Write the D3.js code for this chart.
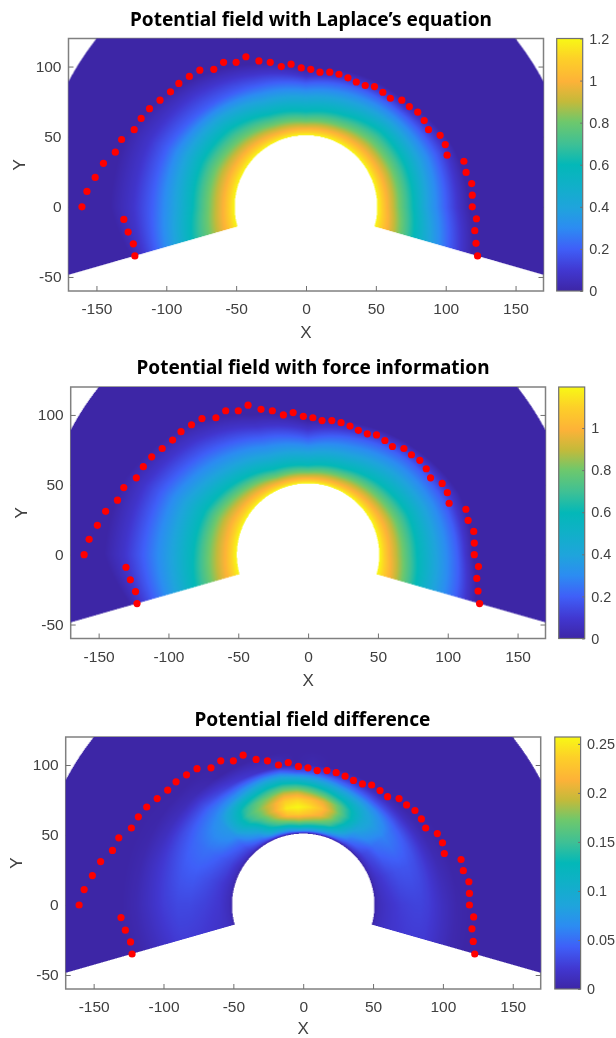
<!DOCTYPE html>
<html>
<head>
<meta charset="utf-8">
<script src="https://cdn.jsdelivr.net/npm/d3@7"></script>
<style>
  html, body { margin: 0; background: #fff; }
  svg { display: block; filter: blur(0.4px); }
  text { font-family: "Liberation Sans", Arial, sans-serif; fill: #404040; }
  .title { font-family: "Noto Sans", sans-serif; font-weight: 700; font-size: 20px; fill: #000; }
</style>
</head>
<body>
<div id="chart"></div>
<script>
// boundary points, same in all three panels
const pointX = [-160.4, -156.8, -150.9, -145, -136.5, -132, -123, -118, -112, -104.5, -97, -91, -83.5, -76, -66, -59, -50, -43, -33.7, -25.6, -17.7, -10.7, -3.4, 3.4, 10, 17, 23.6, 30, 36, 42.4, 49, 55, 60.4, 68.6, 74, 80, 84.6, 87.7, 96, 99.7, 101, 113, 114.6, 118.6, 119, 119, 122, 120.8, 121.7, 122.8, -130.4, -127.3, -123.6, -122.5];
const pointY = [0, 11, 21, 31, 39, 48, 55, 63, 70, 76, 82, 88, 93, 97.4, 98, 103, 103, 107, 104, 103, 100, 101.7, 99, 98, 96, 96, 94.5, 92, 89, 86.5, 85.7, 81.7, 77.4, 76, 71.5, 67.5, 61.5, 55, 51, 44.4, 36.8, 32.5, 24.5, 16.6, 8.3, 0, -8.5, -17, -26, -35, -9, -18, -26.4, -35];

const xTicks = [-150, -100, -50, 0, 50, 100, 150];
const yTicks = [-50, 0, 50, 100];

// colour bar, position along the bar -> colour
const cmapPos = [0, 0.08, 0.167, 0.25, 0.33, 0.42, 0.5, 0.58, 0.67, 0.75, 0.83, 0.92, 1];
const cmapColors = ['#3d26a6', '#4137d0', '#3f5ff8', '#2c8cf2', '#1fa4dc', '#10b0c8', '#03b8b8', '#3dc096', '#6ec86c', '#c4ba3a', '#fdb238', '#fdd028', '#f8f815'];

// Laplace panel: radius where the field reaches each level, by angle (deg)
const fieldAngles = [-15.9, 0, 22, 45, 67, 90, 112, 135, 157, 180, 195.9];
const fieldLevels = [1.2, 1.0, 0.8, 0.6, 0.4, 0.2, 0.08, 0];
const laplaceRadii = [
  [51, 60, 70, 80, 92, 106, 116, 124],
  [51, 58, 67, 77, 86, 100, 109, 117],
  [51, 58, 67, 77, 87, 100, 108, 114],
  [51, 57.5, 66, 76, 85, 95, 100, 104],
  [51, 56.5, 63, 71, 81, 92, 97, 102],
  [51, 55.5, 61, 68, 78, 88, 93, 98],
  [51, 56, 63, 71, 81, 93, 102, 110],
  [51, 58, 67, 78, 89, 100, 114, 124],
  [51, 59, 70, 81, 93, 108, 122, 138],
  [51, 59, 70, 81, 93, 110, 124, 140],
  [51, 60, 72, 85, 97, 112, 122, 130]
];
// force panel, same layout
const forceRadii = [
  [51, 60, 70, 80, 93, 110, 118, 125],
  [51, 58, 68, 78, 91, 107, 113, 118],
  [51, 58, 67, 77, 89, 104, 111, 117],
  [51, 56.5, 64, 72, 84, 98, 104, 108],
  [51, 55, 61, 67, 77, 90, 96, 101],
  [51, 54.5, 59, 64, 73, 83, 90, 96],
  [51, 55, 60, 66, 76, 90, 99, 108],
  [51, 57, 65, 73, 85, 103, 116, 128],
  [51, 59, 70, 80, 95, 114, 128, 142],
  [51, 59, 71, 82, 97, 118, 132, 146],
  [51, 60, 72, 84, 98, 115, 125, 132]
];

// difference panel: value by angle (rows) and radius (columns)
const diffAngles = [-15.9, 0, 20, 40, 55, 65, 72, 79, 86, 93, 100, 107, 114, 122, 135, 150, 165, 180, 195.9];
const diffRadii = [51, 53, 56, 60, 65, 70, 75, 80, 85, 90, 95, 100, 110, 120, 130, 145];
const diffValues = [
  [0, .008, .012, .015, .018, .02, .022, .023, .023, .022, .018, .013, .004, 0, 0, 0],
  [0, .008, .012, .016, .02, .024, .026, .027, .027, .024, .018, .012, .003, 0, 0, 0],
  [0, .01, .017, .023, .03, .035, .037, .037, .033, .025, .015, .007, 0, 0, 0, 0],
  [0, .015, .028, .036, .05, .055, .06, .055, .045, .028, .012, .003, 0, 0, 0, 0],
  [0, .028, .05, .065, .085, .095, .095, .085, .065, .035, .012, 0, 0, 0, 0, 0],
  [0, .045, .08, .115, .14, .15, .14, .115, .08, .045, .015, 0, 0, 0, 0, 0],
  [0, .055, .1, .15, .18, .19, .175, .135, .095, .055, .02, 0, 0, 0, 0, 0],
  [0, .06, .115, .165, .21, .225, .205, .16, .115, .07, .025, 0, 0, 0, 0, 0],
  [0, .065, .12, .175, .225, .245, .225, .18, .135, .085, .035, .005, 0, 0, 0, 0],
  [0, .07, .125, .18, .235, .257, .24, .2, .15, .1, .04, 0, 0, 0, 0, 0],
  [0, .055, .11, .165, .225, .25, .235, .2, .155, .11, .06, .012, 0, 0, 0, 0],
  [0, .05, .1, .15, .19, .21, .205, .18, .145, .105, .06, .015, 0, 0, 0, 0],
  [0, .045, .09, .125, .155, .175, .18, .165, .13, .09, .055, .02, 0, 0, 0, 0],
  [0, .03, .055, .08, .11, .14, .15, .14, .115, .075, .05, .025, 0, 0, 0, 0],
  [0, .018, .03, .042, .055, .07, .075, .075, .07, .06, .05, .035, .008, 0, 0, 0],
  [0, .012, .02, .03, .038, .045, .05, .052, .05, .047, .04, .032, .012, .002, 0, 0],
  [0, .01, .016, .022, .028, .033, .037, .04, .04, .038, .033, .027, .015, .004, 0, 0],
  [0, .01, .014, .02, .023, .026, .028, .03, .03, .03, .027, .024, .014, .005, 0, 0],
  [0, .01, .014, .016, .018, .02, .022, .023, .024, .024, .022, .018, .01, .003, 0, 0]
];

const titles = ['Potential field with Laplace\u2019s equation', 'Potential field with force information', 'Potential field difference'];
const barMax = [1.2, 1.195, 0.257];
const barTicks = [[0, 0.2, 0.4, 0.6, 0.8, 1, 1.2], [0, 0.2, 0.4, 0.6, 0.8, 1], [0, 0.05, 0.1, 0.15, 0.2, 0.25]];

const W = 616, H = 1038;
const INNER_R = 51, OUTER_R = 192, WEDGE = 15.9;

const layout = [
  { left: 68.5, right: 543.5, top: 38.5, bottom: 291, barL: 556.7, barR: 582.7, titleX: 311, titleY: 26, titleW: 362, yLabelX: 25, xLabelDy: 47 },
  { left: 70.7, right: 545.5, top: 387, bottom: 638.5, barL: 558.7, barR: 584.7, titleX: 313, titleY: 374, titleW: 353, yLabelX: 27, xLabelDy: 47 },
  { left: 65.7, right: 540.7, top: 737, bottom: 989, barL: 554.8, barR: 580.6, titleX: 312.5, titleY: 726, titleW: 236, yLabelX: 22, xLabelDy: 45.4 }
];

const svg = d3.select('#chart').append('svg').attr('width', W).attr('height', H);

const position = d3.scaleLinear().domain(cmapPos).range(cmapColors).interpolate(d3.interpolateRgb).clamp(true);

// per angle lookup, one value(r) scale for every quarter degree
function buildLookup(angles, rows, makeScale) {
  const cols = d3.transpose(rows).map(c => d3.scaleLinear().domain(angles).range(c).clamp(true));
  const table = [];
  for (let i = 0; i <= 240 * 4; i++) {
    const a = -30 + i / 4;
    table.push(makeScale(cols.map(c => c(a))));
  }
  return a => table[Math.round((a + 30) * 4)];
}

const lookups = [
  buildLookup(fieldAngles, laplaceRadii, rr => d3.scaleLinear().domain(rr).range(fieldLevels).clamp(true)),
  buildLookup(fieldAngles, forceRadii, rr => d3.scaleLinear().domain(rr).range(fieldLevels).clamp(true)),
  buildLookup(diffAngles, diffValues, vv => d3.scaleLinear().domain(diffRadii).range(vv).clamp(true))
];

layout.forEach((p, n) => {
  const g = svg.append('g');
  const x = d3.scaleLinear().domain([-170, 170]).range([p.left, p.right]);
  const y = d3.scaleLinear().domain([-60, 120]).range([p.bottom, p.top]);
  const colorBar = d3.scaleLinear().domain([0, barMax[n]]).range([0, 1]);

  // frame and ticks sit under the field
  g.append('rect')
    .attr('x', p.left).attr('y', p.top)
    .attr('width', p.right - p.left).attr('height', p.bottom - p.top)
    .attr('fill', 'none').attr('stroke', '#808080').attr('stroke-width', 1.5);

  const styleAxis = (a, size = 15.5) => {
    a.select('.domain').remove();
    a.selectAll('line').attr('stroke', '#707070').attr('stroke-width', 1);
    a.selectAll('text').attr('font-size', size).attr('fill', '#404040');
  };
  const plain = d => String(d); // matlab style hyphen, not the d3 minus sign
  g.append('g').attr('transform', `translate(0,${p.bottom})`)
    .call(d3.axisBottom(x).tickValues(xTicks).tickSize(-5).tickPadding(12).tickFormat(plain)).call(styleAxis);
  g.append('g').attr('transform', `translate(0,${p.top})`)
    .call(d3.axisTop(x).tickValues(xTicks).tickSize(-5).tickFormat('')).call(styleAxis);
  g.append('g').attr('transform', `translate(${p.left},0)`)
    .call(d3.axisLeft(y).tickValues(yTicks).tickSize(-5).tickPadding(7).tickFormat(plain)).call(styleAxis);
  g.append('g').attr('transform', `translate(${p.right},0)`)
    .call(d3.axisRight(y).tickValues(yTicks).tickSize(-5).tickFormat('')).call(styleAxis);

  // field drawn at 2x into an image so its edges stay soft
  const cw = Math.round((p.right - p.left) * 2), ch = Math.round((p.bottom - p.top) * 2);
  const canvas = document.createElement('canvas');
  canvas.width = cw; canvas.height = ch;
  const ctx = canvas.getContext('2d');
  const img = ctx.createImageData(cw, ch);
  const look = lookups[n];
  for (let j = 0; j < ch; j++) {
    const dy = y.invert(p.top + (j + 0.5) / 2);
    for (let i = 0; i < cw; i++) {
      const dx = x.invert(p.left + (i + 0.5) / 2);
      const r = Math.hypot(dx, dy);
      let a = Math.atan2(dy, dx) * 180 / Math.PI;
      if (a < -90) a += 360;
      if (r < INNER_R || r > OUTER_R || a < -WEDGE || a > 180 + WEDGE) continue;
      const c = d3.rgb(position(colorBar(look(a)(r))));
      const k = (j * cw + i) * 4;
      img.data[k] = c.r; img.data[k + 1] = c.g; img.data[k + 2] = c.b; img.data[k + 3] = 255;
    }
  }
  ctx.putImageData(img, 0, 0);
  g.append('image')
    .attr('x', p.left).attr('y', p.top)
    .attr('width', p.right - p.left).attr('height', p.bottom - p.top)
    .attr('preserveAspectRatio', 'none')
    .attr('href', canvas.toDataURL());

  // boundary points
  g.append('g').selectAll('circle')
    .data(pointX)
    .join('circle')
    .attr('cx', d => x(d))
    .attr('cy', (d, i) => y(pointY[i]))
    .attr('r', 3.6)
    .attr('fill', '#ff0000');

  // labels
  g.append('text').attr('class', 'title')
    .attr('x', p.titleX).attr('y', p.titleY)
    .attr('text-anchor', 'middle')
    .attr('textLength', p.titleW).attr('lengthAdjust', 'spacingAndGlyphs')
    .text(titles[n]);
  g.append('text')
    .attr('x', x(0)).attr('y', p.bottom + p.xLabelDy)
    .attr('text-anchor', 'middle').attr('font-size', 17)
    .text('X');
  g.append('text')
    .attr('transform', `translate(${p.yLabelX},${y(30)}) rotate(-90)`)
    .attr('text-anchor', 'middle').attr('font-size', 17)
    .text('Y');

  // colour bar
  const gradId = 'bar' + n;
  svg.append('defs').append('linearGradient')
    .attr('id', gradId).attr('x1', 0).attr('x2', 0).attr('y1', 1).attr('y2', 0)
    .selectAll('stop').data(cmapPos).join('stop')
    .attr('offset', d => d)
    .attr('stop-color', (d, i) => cmapColors[i]);
  g.append('rect')
    .attr('x', p.barL).attr('y', p.top)
    .attr('width', p.barR - p.barL).attr('height', p.bottom - p.top)
    .attr('fill', `url(#${gradId})`).attr('stroke', '#707070').attr('stroke-width', 1.2);
  const barY = d3.scaleLinear().domain([0, barMax[n]]).range([p.bottom, p.top]);
  g.append('g').attr('transform', `translate(${p.barR},0)`)
    .call(d3.axisRight(barY).tickValues(barTicks[n]).tickSize(-2.5).tickPadding(6.5).tickFormat(plain))
    .call(a => styleAxis(a, 14.4));
});
</script>
</body>
</html>
